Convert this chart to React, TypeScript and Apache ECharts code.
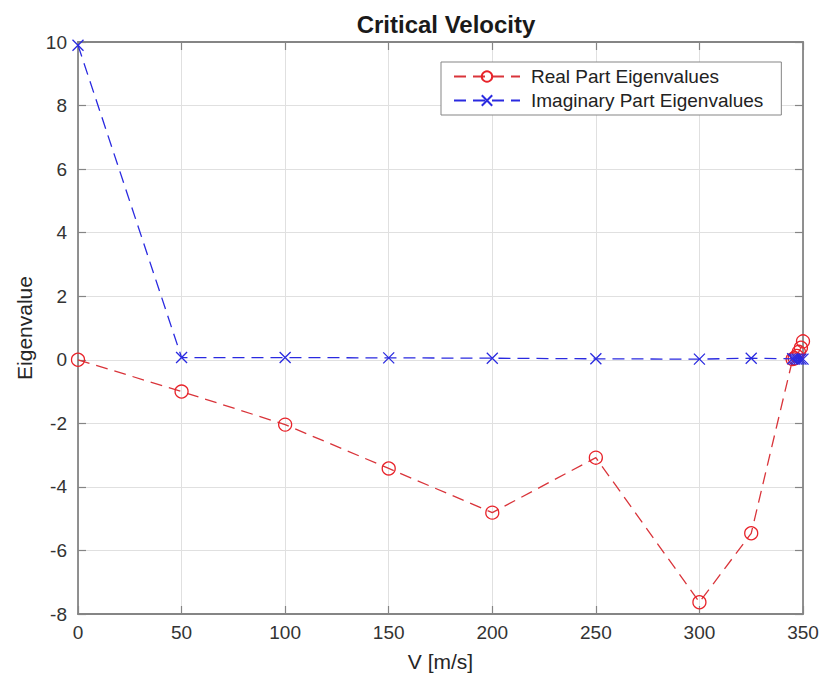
import React, { useEffect, useRef } from "react";
import * as echarts from "echarts";

const velocities = [0, 50, 100, 150, 200, 250, 300, 325, 345, 346, 347, 348, 349, 350];
const realPart = [0, -1.0, -2.04, -3.42, -4.81, -3.08, -7.63, -5.46, 0.02, 0.05, 0.12, 0.25, 0.38, 0.58];
const imagPart = [9.9, 0.07, 0.07, 0.06, 0.05, 0.03, 0.02, 0.05, 0.03, 0.02, 0.02, 0.02, 0.02, 0.02];
const xTicks = { min: 0, max: 350, interval: 50 };
const yTicks = { min: -8, max: 10, interval: 2 };

const FONT = "'Liberation Sans', Arial, Helvetica, sans-serif";

export default function App() {
  const ref = useRef<HTMLDivElement>(null);
  useEffect(() => {
    const chart = echarts.init(ref.current!, undefined, { renderer: "svg" });
    const realData = velocities.map((v, i) => [v, realPart[i]]);
    const imagData = velocities.map((v, i) => [v, imagPart[i]]);
    const axisLine = { show: true, onZero: false, lineStyle: { color: "#858585", width: 1.8 } };
    const tick = { show: true, inside: true, length: 8, lineStyle: { color: "#858585", width: 1.2 } };
    const crossPath = "path://M0,0L10,10M10,0L0,10";
    chart.setOption({
      animation: false,
      backgroundColor: "#ffffff",
      textStyle: { fontFamily: FONT },
      title: {
        text: "Critical Velocity",
        left: 441,
        top: 7,
        textAlign: "center",
        textStyle: { fontFamily: FONT, fontWeight: "bold", fontSize: 24, color: "#1a1a1a" },
      },
      legend: {
        left: 441,
        top: 62,
        orient: "vertical",
        backgroundColor: "#ffffff",
        borderColor: "#858585",
        borderWidth: 1,
        borderRadius: 0,
        padding: [5, 18, 5, 12],
        itemGap: 5,
        itemWidth: 66,
        itemHeight: 13,
        textStyle: { fontFamily: FONT, fontSize: 19, color: "#222", padding: [0, 0, 0, 6] },
        data: ["Real Part Eigenvalues", "Imaginary Part Eigenvalues"],
      },
      grid: { left: 78, right: 20, top: 42, bottom: 75, containLabel: false, outerBoundsMode: "none" },
      xAxis: [
        {
          type: "value",
          ...xTicks,
          name: "V [m/s]",
          nameLocation: "middle",
          nameGap: 37,
          nameTextStyle: { fontFamily: FONT, fontSize: 21, color: "#262626" },
          axisLine,
          axisTick: tick,
          axisLabel: { fontFamily: FONT, fontSize: 19, color: "#333", margin: 9 },
          splitLine: { show: true, lineStyle: { color: "#e0e0e0", width: 1 } },
        },
        {
          type: "value",
          ...xTicks,
          position: "top",
          axisLine,
          axisTick: tick,
          axisLabel: { show: false },
          splitLine: { show: false },
        },
      ],
      yAxis: [
        {
          type: "value",
          ...yTicks,
          name: "Eigenvalue",
          nameLocation: "middle",
          nameGap: 41,
          nameTextStyle: { fontFamily: FONT, fontSize: 21, color: "#262626" },
          axisLine,
          axisTick: tick,
          axisLabel: { fontFamily: FONT, fontSize: 19, color: "#333", margin: 11 },
          splitLine: { show: true, lineStyle: { color: "#e0e0e0", width: 1 } },
        },
        {
          type: "value",
          ...yTicks,
          position: "right",
          axisLine,
          axisTick: tick,
          axisLabel: { show: false },
          splitLine: { show: false },
        },
      ],
      series: [
        {
          name: "Real Part Eigenvalues",
          type: "line",
          data: realData,
          symbol: "circle",
          symbolSize: 13,
          showSymbol: true,
          color: "#e8232a",
          lineStyle: { color: "#d9343a", width: 1.3, type: [12, 7] },
          itemStyle: { color: "rgba(255,255,255,0)", borderColor: "#e8232a", borderWidth: 1.3 },
          z: 3,
        },
        {
          name: "Imaginary Part Eigenvalues",
          type: "line",
          data: imagData,
          symbol: crossPath,
          symbolSize: 11,
          showSymbol: true,
          color: "#2a2ae0",
          lineStyle: { color: "#2a2ae0", width: 1.3, type: [12, 7] },
          itemStyle: { color: "rgba(255,255,255,0)", borderColor: "#2a2ae0", borderWidth: 1.3 },
          z: 4,
        },
      ],
    });
    return () => chart.dispose();
  }, []);
  return <div ref={ref} style={{ position: "absolute", left: 0, top: 0, width: 823, height: 689 }} />;
}
